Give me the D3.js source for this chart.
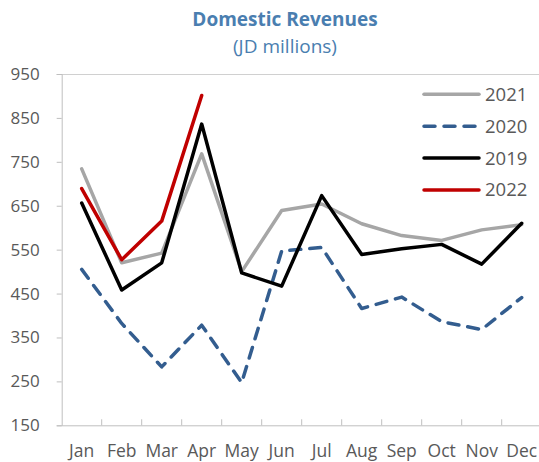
<!DOCTYPE html>
<html>
<head>
<meta charset="utf-8">
<script src="https://cdn.jsdelivr.net/npm/d3@7"></script>
<style>
  body { margin: 0; background: #fff; }
  text { font-family: "Open Sans", "Noto Sans", sans-serif; }
</style>
</head>
<body>
<div id="chart-area"></div>
<script>
// data
var months = ["Jan", "Feb", "Mar", "Apr", "May", "Jun", "Jul", "Aug", "Sep", "Oct", "Nov", "Dec"];
var yTicks = [150, 250, 350, 450, 550, 650, 750, 850, 950];
var seriesNames = ["2021", "2020", "2019", "2022"];
var v2021 = [734, 520, 542, 768, 500, 639, 654, 609, 582, 571, 595, 607];
var v2020 = [505, 382, 283, 378, 247, 547, 555, 416, 442, 386, 368, 441];
var v2019 = [656, 458, 520, 836, 497, 467, 673, 539, 552, 562, 517, 610];
var v2022 = [689, 527, 615, 901];

var width = 539, height = 462;
var plotLeft = 61.7, plotTop = 74, plotBottom = 425.3, bandW = 40;
var labelFont = "\"Open Sans\", \"Noto Sans\", sans-serif";

var svg = d3.select("#chart-area")
  .append("svg")
    .attr("width", width)
    .attr("height", height);

var x = d3.scaleBand()
  .domain(months)
  .range([plotLeft, plotLeft + bandW * months.length]);

var y = d3.scaleLinear()
  .domain([150, 950])
  .range([plotBottom, plotTop]);

// title
svg.append("text")
  .attr("x", 285).attr("y", 26)
  .attr("text-anchor", "middle")
  .attr("font-size", 19)
  .attr("font-weight", "bold")
  .attr("fill", "#4a7eb0")
  .text("Domestic Revenues");
svg.append("text")
  .attr("x", 285).attr("y", 53)
  .attr("text-anchor", "middle")
  .attr("font-size", 19)
  .attr("fill", "#4a7eb0")
  .text("(JD millions)");

// frame: top border
svg.append("line")
  .attr("x1", plotLeft).attr("x2", width)
  .attr("y1", plotTop + 0.5).attr("y2", plotTop + 0.5)
  .attr("stroke", "#d0d0d0");

// y axis
var yAxis = svg.append("g")
  .attr("transform", "translate(" + plotLeft + ",0)")
  .call(d3.axisLeft(y).tickValues(yTicks).tickSize(5).tickPadding(17));
yAxis.select(".domain").attr("stroke", "#bfbfbf");
yAxis.selectAll(".tick line").attr("stroke", "#bfbfbf");
yAxis.selectAll(".tick text")
  .attr("font-size", 17)
  .attr("fill", "#595959")
  .attr("font-family", labelFont);

// x axis, ticks between categories
var xAxis = svg.append("g")
  .attr("transform", "translate(0," + plotBottom + ")")
  .call(d3.axisBottom(x).tickSize(0).tickPadding(19));
xAxis.select(".domain").attr("stroke", "#bfbfbf");
xAxis.selectAll(".tick text")
  .attr("font-size", 17.5)
  .attr("fill", "#595959")
  .attr("font-family", labelFont);
xAxis.selectAll(".sep")
  .data(months.slice(1))
  .enter()
  .append("line")
    .attr("class", "sep")
    .attr("x1", function(d) { return x(d); })
    .attr("x2", function(d) { return x(d); })
    .attr("y1", 0).attr("y2", -6)
    .attr("stroke", "#bfbfbf");

// lines
var line = d3.line()
  .x(function(d, i) { return x(months[i]) + x.bandwidth() / 2; })
  .y(function(d) { return y(d); });

var series = [
  { name: seriesNames[0], values: v2021, color: "#a6a6a6", dash: null },
  { name: seriesNames[1], values: v2020, color: "#335d8f", dash: "11,9" },
  { name: seriesNames[2], values: v2019, color: "#000000", dash: null },
  { name: seriesNames[3], values: v2022, color: "#c00000", dash: null }
];

var drawOrder = [series[1], series[0], series[2], series[3]];
svg.selectAll(".series")
  .data(drawOrder)
  .enter()
  .append("path")
    .attr("class", "series")
    .attr("d", function(d) { return line(d.values); })
    .attr("fill", "none")
    .attr("stroke", function(d) { return d.color; })
    .attr("stroke-width", 3.5)
    .attr("stroke-linejoin", "round")
    .attr("stroke-linecap", "round")
    .attr("stroke-dasharray", function(d) { return d.dash; });

// legend
var legend = svg.selectAll(".legend")
  .data(series)
  .enter()
  .append("g")
    .attr("class", "legend")
    .attr("transform", function(d, i) { return "translate(424," + (94.3 + i * 31.9) + ")"; });
legend.append("line")
  .attr("x1", 0).attr("x2", 55)
  .attr("stroke", function(d) { return d.color; })
  .attr("stroke-width", 3.5)
  .attr("stroke-linecap", "round")
  .attr("stroke-dasharray", function(d) { return d.dash; });
legend.append("text")
  .attr("x", 61).attr("y", 0)
  .attr("dy", "0.35em")
  .attr("font-size", 18.5)
  .attr("fill", "#595959")
  .text(function(d) { return d.name; });
</script>
</body>
</html>
